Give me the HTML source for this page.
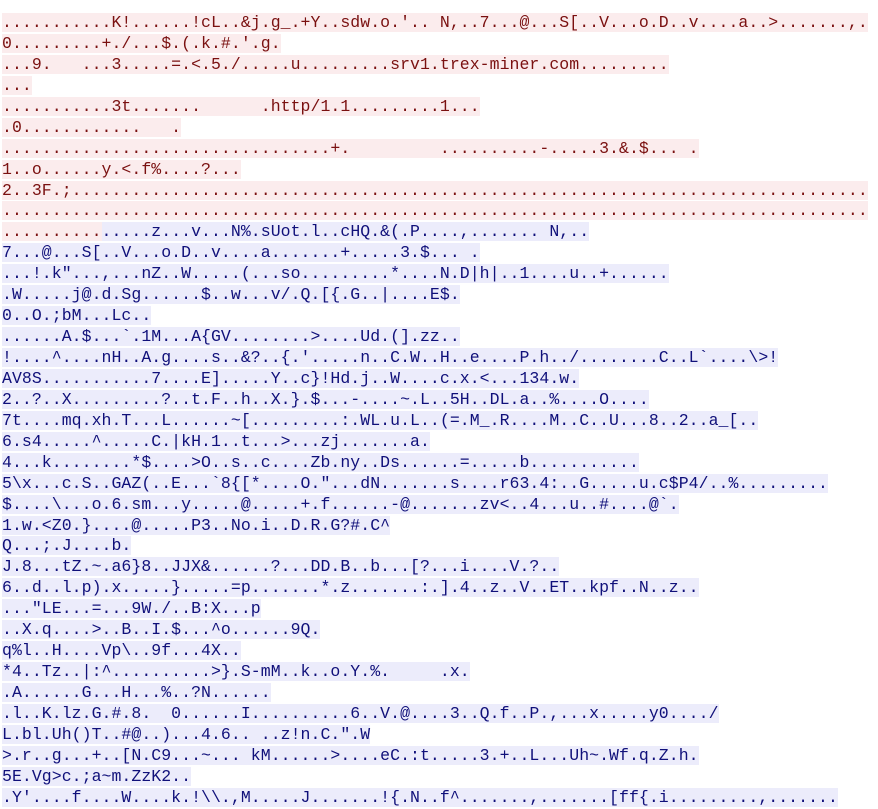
<!DOCTYPE html>
<html><head><meta charset="utf-8"><style>
html,body{margin:0;padding:0;background:#fff;width:878px;height:796px;overflow:hidden}
#w{position:absolute;left:2px;top:13px;font-family:"Liberation Mono",monospace;font-size:16.5px;letter-spacing:0.05px}
#w div{height:20.95px;line-height:20.95px;white-space:pre}
.r{background:#fbeced;color:#7a1010}
.b{background:#ececfb;color:#10107a}
</style></head><body><div id="w">
<div><span class="r">...........K!......!cL..&amp;j.g_.+Y..sdw.o.'.. N,..7...@...S[..V...o.D..v....a..&gt;.......,.</span></div>
<div><span class="r">0.........+./...$.(.k.#.'.g.</span></div>
<div><span class="r">...9.   ...3.....=.&lt;.5./.....u.........srv1.trex-miner.com.........</span></div>
<div><span class="r">...</span></div>
<div><span class="r">...........3t.......      .http/1.1.........1...</span></div>
<div><span class="r">.0............   .</span></div>
<div><span class="r">.................................+.         ..........-.....3.&amp;.$... .</span></div>
<div><span class="r">1..o......y.&lt;.f%....?...</span></div>
<div><span class="r">2..3F.;................................................................................</span></div>
<div><span class="r">.......................................................................................</span></div>
<div><span class="r">..........</span><span class="b">.....z...v...N%.sUot.l..cHQ.&amp;(.P....,....... N,..</span></div>
<div><span class="b">7...@...S[..V...o.D..v....a.......+.....3.$... .</span></div>
<div><span class="b">...!.k"...,...nZ..W.....(...so.........*....N.D|h|..1....u..+......</span></div>
<div><span class="b">.W.....j@.d.Sg......$..w...v/.Q.[{.G..|....E$.</span></div>
<div><span class="b">0..O.;bM...Lc..</span></div>
<div><span class="b">......A.$...`.1M...A{GV........&gt;....Ud.(].zz..</span></div>
<div><span class="b">!....^....nH..A.g....s..&amp;?..{.'.....n..C.W..H..e....P.h../........C..L`....\&gt;!</span></div>
<div><span class="b">AV8S...........7....E].....Y..c}!Hd.j..W....c.x.&lt;...134.w.</span></div>
<div><span class="b">2..?..X.........?..t.F..h..X.}.$...-....~.L..5H..DL.a..%....O....</span></div>
<div><span class="b">7t....mq.xh.T...L......~[.........:.WL.u.L..(=.M_.R....M..C..U...8..2..a_[..</span></div>
<div><span class="b">6.s4.....^.....C.|kH.1..t...&gt;...zj.......a.</span></div>
<div><span class="b">4...k........*$....&gt;O..s..c....Zb.ny..Ds......=.....b...........</span></div>
<div><span class="b">5\x...c.S..GAZ(..E...`8{[*....O."...dN.......s....r63.4:..G.....u.c$P4/..%.........</span></div>
<div><span class="b">$....\...o.6.sm...y.....@.....+.f......-@.......zv&lt;..4...u..#....@`.</span></div>
<div><span class="b">1.w.&lt;Z0.}....@.....P3..No.i..D.R.G?#.C^</span></div>
<div><span class="b">Q...;.J....b.</span></div>
<div><span class="b">J.8...tZ.~.a6}8..JJX&amp;......?...DD.B..b...[?...i....V.?..</span></div>
<div><span class="b">6..d..l.p).x.....}.....=p.......*.z.......:.].4..z..V..ET..kpf..N..z..</span></div>
<div><span class="b">..."LE...=...9W./..B:X...p</span></div>
<div><span class="b">..X.q....&gt;..B..I.$...^o......9Q.</span></div>
<div><span class="b">q%l..H....Vp\..9f...4X..</span></div>
<div><span class="b">*4..Tz..|:^..........&gt;}.S-mM..k..o.Y.%.     .x.</span></div>
<div><span class="b">.A......G...H...%..?N......</span></div>
<div><span class="b">.l..K.lz.G.#.8.  0......I..........6..V.@....3..Q.f..P.,...x.....y0..../</span></div>
<div><span class="b">L.bl.Uh()T..#@..)...4.6.. ..z!n.C.".W</span></div>
<div><span class="b">&gt;.r..g...+..[N.C9...~... kM......&gt;....eC.:t.....3.+..L...Uh~.Wf.q.Z.h.</span></div>
<div><span class="b">5E.Vg&gt;c.;a~m.ZzK2..</span></div>
<div><span class="b">.Y'....f....W....k.!\\.,M.....J.......!{.N..f^.......,.......[ff{.i.........,.......</span></div>
</div></body></html>
